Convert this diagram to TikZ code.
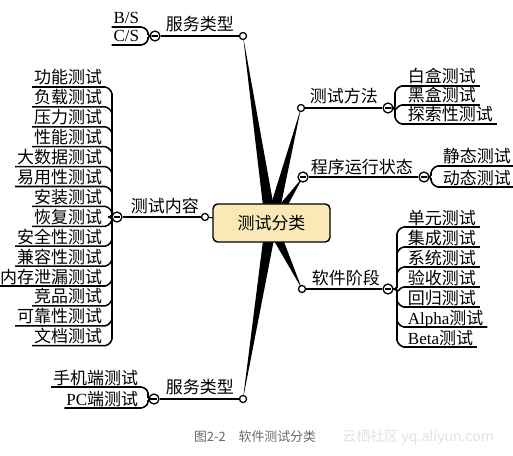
\documentclass[tikz,border=0pt]{standalone}
\usepackage{fontspec}
\setmainfont{Liberation Serif}
\newfontfamily\cjk{Noto Sans CJK SC}
\definecolor{TopicYellow}{RGB}{250,233,182}
\definecolor{CaptionGray}{RGB}{105,105,105}
\definecolor{MarkGray}{RGB}{226,226,226}
\usetikzlibrary{calc, positioning, backgrounds}

\begin{document}
\begin{tikzpicture}[x=0.03cm, y=-0.03cm, line width=1.3pt,
	every node/.style={inner sep=1pt, font=\fontsize{14.5}{16}\selectfont\cjk},
	dot/.style={circle, draw, fill=white, line width=1.1pt, inner sep=0pt, minimum size=6pt},
	fold/.style={dot, minimum size=8.5pt, path picture={\draw[line width=0.9pt]
		([xshift=1.6pt]path picture bounding box.west) -- ([xshift=-1.6pt]path picture bounding box.east);}},
	wedge/.style={fill=black},
	twig/.style={rounded corners=1.5pt}]
	\useasboundingbox (0,0) rectangle (513,456);
	\coordinate (hub) at (271,224);

	\node[draw, fill=TopicYellow, rounded corners=4pt, minimum width=3.51cm, minimum height=1.14cm,
		line width=1.2pt] (root) at (271.5,223) {测试分类};

	\node[dot] (srvA) at (243,36) {};
	\node[dot] (mtd) at (301,108) {};
	\node[fold] (run) at (303,177) {};
	\node[dot] (stg) at (302,289) {};
	\node[dot] (cnt) at (205,217) {};
	\node[dot] (srvB) at (243,399) {};

	\begin{scope}[on background layer]
		\foreach \e in {srvA, mtd, run, stg, cnt, srvB}
			\fill[wedge] ($(hub)!5pt!90:(\e)$) -- (\e.center) -- ($(hub)!5pt!-90:(\e)$) -- cycle;
	\end{scope}

	% 服务类型 (top)
	\node[fold] (srvAf) at (155,36) {};
	\draw (srvA) -- (srvAf);
	\node[anchor=base west] at (164,31) {服务类型};
	\foreach \n/\y/\s [count=\i] in {{B/S}/24/1, {C/S}/42/-1} {
		\node[anchor=base east, font=\fontsize{14.5}{16}\selectfont\rmfamily] (srvA\i) at (141,\y) {\n};
		\draw[twig] ($(srvA\i.base west)+(0,3)$) -- (143,\y+3) -- (148,\y+3+4*\s) -- (148,36) -- (srvAf);
	}

	% 测试方法
	\node[fold] (mtdf) at (388,108) {};
	\draw (mtd) -- (mtdf);
	\node[anchor=base west] at (308,103) {测试方法};
	\foreach \n/\s [count=\i from 0] in {白盒测试/1, 黑盒测试/1, 探索性测试/-1} {
		\node[anchor=base west] (mtd\i) at (406,83+19*\i) {\n};
		\draw[twig] ($(mtd\i.base east)+(2,3)$) -- (400,86+19*\i) -- (395,86+19*\i+5*\s) -- (395,108) -- (mtdf);
	}

	% 程序运行状态
	\node[fold] (runf) at (424,177) {};
	\draw (run) -- (runf);
	\node[anchor=base west] at (309,173) {程序运行状态};
	\foreach \n/\s [count=\i from 0] in {静态测试/1, 动态测试/-1} {
		\node[anchor=base west] (run\i) at (441,163+21*\i) {\n};
		\draw[twig] ($(run\i.base east)+(2,3)$) -- (436,166+21*\i) -- (431,166+21*\i+5*\s) -- (431,177) -- (runf);
	}

	% 软件阶段
	\node[fold] (stgf) at (388,289) {};
	\draw (stg) -- (stgf);
	\node[anchor=base west] at (310,284) {软件阶段};
	\foreach \n/\s [count=\i from 0] in {单元测试/1, 集成测试/1, 系统测试/1, 验收测试/1, 回归测试/-1,
		{{\rmfamily Alpha}测试}/-1, {{\rmfamily Beta}测试}/-1} {
		\node[anchor=base west] (stg\i) at (406,224+20*\i) {\n};
		\draw[twig] ($(stg\i.base east)+(2,3)$) -- (402,227+20*\i) -- (397,227+20*\i+5*\s) -- (397,289) -- (stgf);
	}

	% 测试内容
	\node[fold] (cntf) at (117,217) {};
	\draw (cnt) -- (cntf);
	\node[anchor=base west] at (129,212) {测试内容};
	\foreach \n/\s [count=\i from 0] in {功能测试/1, 负载测试/1, 压力测试/1, 性能测试/1, 大数据测试/1,
		易用性测试/1, 安装测试/1, 恢复测试/-1, 安全性测试/-1, 兼容性测试/-1, 内存泄漏测试/-1, 竞品测试/-1,
		可靠性测试/-1, 文档测试/-1} {
		\node[anchor=base east] (cnt\i) at (104,84+19.9*\i) {\n};
		\draw[twig] ($(cnt\i.base west)+(0,3)$) -- (107,87+19.9*\i) -- (112,87+19.9*\i+5*\s) -- (112,217) -- (cntf);
	}

	% 服务类型 (bottom)
	\node[fold] (srvBf) at (154,399) {};
	\draw (srvB) -- (srvBf);
	\node[anchor=base west] at (164,393) {服务类型};
	\foreach \n/\y/\s [count=\i] in {手机端测试/384/1, {{\rmfamily PC}端测试}/405/-1} {
		\node[anchor=base east] (srvB\i) at (140,\y) {\n};
		\draw[twig] ($(srvB\i.base west)+(0,3)$) -- (143,\y+3) -- (148,\y+3+4*\s) -- (148,399) -- (srvBf);
	}

	\node[font=\fontsize{11}{13}\selectfont\cjk, text=CaptionGray] (cap) at (255,437) {图2-2\quad 软件测试分类};
	\node[font=\fontsize{12}{14}\selectfont\cjk, text=MarkGray] (mark) at (418,437) {云栖社区 yq.aliyun.com};
\end{tikzpicture}
\end{document}
